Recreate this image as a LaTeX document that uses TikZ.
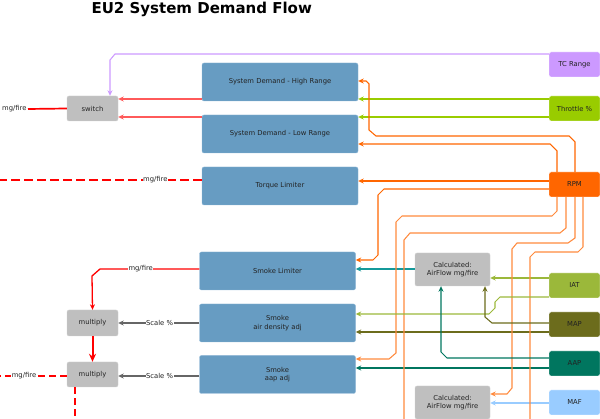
\documentclass[tikz,border=0pt]{standalone}
\usepackage{fontspec}
\setmainfont{DejaVu Sans}
\usetikzlibrary{arrows.meta}
\definecolor{boxblue}{HTML}{679CC2}
\definecolor{boxedge}{HTML}{8DB6D6}
\definecolor{calcgray}{HTML}{BFBFBF}
\definecolor{calcedge}{HTML}{D0D0D0}
\definecolor{textdark}{HTML}{222222}
\definecolor{tcpurple}{HTML}{CC99FF}
\definecolor{thrgreen}{HTML}{99CC00}
\definecolor{rpmorange}{HTML}{FF6600}
\definecolor{rpmlight}{HTML}{FF8A3D}
\definecolor{iatgreen}{HTML}{9BB83A}
\definecolor{mapolive}{HTML}{6C6C1C}
\definecolor{aapteal}{HTML}{00765F}
\definecolor{mafblue}{HTML}{99CCFF}
\definecolor{calcteal}{HTML}{14999A}
\definecolor{demandred}{HTML}{FF5A5A}
\definecolor{scalegray}{HTML}{666666}
\newcommand{\boxfont}{\fontsize{6.8}{8.4}\selectfont}
\newcommand{\titlefont}{\fontsize{15}{18}\selectfont\bfseries}
\begin{document}
\begin{tikzpicture}[x=1pt, y=-1pt]
    \useasboundingbox (0,0) rectangle (600,419);
    \node[anchor=base west, font=\titlefont] (title) at (88,14) {EU2 System Demand Flow};
    % demand blocks
    \begin{scope}
        \tikzstyle{every node}=[fill=boxblue, draw=boxedge, rounded corners=2pt, minimum width=156pt, minimum height=38pt, align=center, text=textdark, font=\boxfont]
        \node (hi) at (280,82) {System Demand - High Range};
        \node (lo) at (280,134) {System Demand - Low Range};
        \node (tq) at (280,186) {Torque Limiter};
        \node (smk) at (277.5,271) {Smoke Limiter};
        \node (sad) at (277.5,323) {Smoke\\air density adj};
        \node (sap) at (277.5,374.5) {Smoke\\aap adj};
    \end{scope}
    % gray blocks
    \begin{scope}
        \tikzstyle{every node}=[fill=calcgray, draw=calcedge, rounded corners=2pt, align=center, text=textdark, font=\boxfont]
        \node[minimum width=51pt, minimum height=25pt] (sw) at (92.5,108.5) {switch};
        \node[minimum width=51pt, minimum height=26pt] (mul1) at (92.5,323) {multiply};
        \node[minimum width=51pt, minimum height=25pt] (mul2) at (92.5,374.5) {multiply};
        \node[minimum width=75pt, minimum height=33pt] (caf1) at (452.5,269.5) {Calculated:\\AirFlow mg/fire};
        \node[minimum width=75pt, minimum height=33pt] (caf2) at (452.5,402.5) {Calculated:\\AirFlow mg/fire};
    \end{scope}
    % inputs
    \begin{scope}
        \tikzstyle{every node}=[draw=white, rounded corners=2pt, minimum width=51pt, minimum height=25pt, text=textdark, font=\boxfont]
        \node[fill=tcpurple] (tc) at (574.5,64.5) {TC Range};
        \node[fill=thrgreen] (thr) at (574.5,108.5) {Throttle \%};
        \node[fill=rpmorange] (rpm) at (574.5,184.5) {RPM};
        \node[fill=iatgreen] (iat) at (574.5,285.5) {IAT};
        \node[fill=mapolive] (map) at (574.5,324.5) {MAP};
        \node[fill=aapteal] (aap) at (574.5,363.5) {AAP};
        \node[fill=mafblue] (maf) at (574.5,402.5) {MAF};
    \end{scope}
    % connectors
    \begin{scope}
        \tikzstyle{wire}=[line width=1.05pt, -{Stealth[length=5.5pt, width=5pt]}]
        \tikzstyle{lbl}=[fill=white, inner sep=0.6pt, text=textdark, font=\boxfont]
        \tikzstyle{every edge}=[draw, wire]
        \coordinate (tqout) at (0,180);
        \coordinate (mulout) at (0,376);
        \coordinate (muldown) at (75,419);
        \coordinate (rpmdown1) at (404,419);
        \coordinate (rpmdown2) at (530,419);
        \path
        (thr.west |- 0,99) edge[thrgreen] (hi.east |- 0,99)
        (thr.west |- 0,117) edge[thrgreen] (lo.east |- 0,117)
        (hi.west |- 0,99) edge[demandred] (sw.east |- 0,99)
        (lo.west |- 0,117) edge[demandred] (sw.east |- 0,117)
        (rpm.west |- 0,181) edge[rpmorange] (tq.east |- 0,181)
        (caf1.west |- 0,269) edge[calcteal] (smk.east |- 0,269)
        (iat.west |- 0,278) edge[iatgreen] (caf1.east |- 0,278)
        (map.west |- 0,332) edge[mapolive] (sad.east |- 0,332)
        (aap.west |- 0,368) edge[aapteal] (sap.east |- 0,368)
        (maf.west |- 0,403) edge[mafblue] (caf2.east |- 0,403)
        (mul1.south) edge[red, line width=2pt, -{Stealth[length=8pt, width=7pt]}] (mul2.north);
        \draw[wire, tcpurple] (tc.west |- 0,54) -- (115,54) -- (110,60) -- (sw.north -| 110,0);
        \draw[red, line width=1.7pt] (sw.west) -- (28,109) node[lbl, anchor=east] (swout) {mg/fire};
        \draw[red, line width=1.8pt, dash pattern=on 9pt off 4pt] (tq.west |- 0,180) -- node[lbl, pos=0.23] {mg/fire} (tqout);
        \draw[red, line width=1.4pt, dash pattern=on 7pt off 4pt] (mul2.west |- 0,376) -- node[lbl, pos=0.64] {mg/fire} (mulout);
        \draw[red, line width=1.4pt, dash pattern=on 7pt off 4pt] (mul2.south -| 75,0) -- (muldown);
        \draw[wire, red, line width=1.3pt] (smk.west |- 0,269) -- node[lbl, pos=0.59] {mg/fire} (100,269) -- (92,276) -- (mul1.north);
        \draw[wire, scalegray] (sad.west |- 0,323) -- node[lbl, pos=0.49] {Scale \%} (mul1.east |- 0,323);
        \draw[wire, scalegray] (sap.west |- 0,376) -- node[lbl, pos=0.49] {Scale \%} (mul2.east |- 0,376);
        % rpm feeds
        \draw[wire, rpmorange] (rpm.north -| 575,0) -- (575,142) -- (569,136) -- (376,136) -- (369,130) -- (369,84) -- (366,81) -- (hi.east |- 0,81);
        \draw[wire, rpmorange] (rpm.north -| 557,0) -- (557,151) -- (550,144) -- (lo.east |- 0,144);
        \draw[wire, rpmorange] (rpm.west |- 0,189) -- (384,189) -- (378,195) -- (378,255) -- (373,260) -- (smk.east |- 0,260);
        \draw[wire, rpmlight] (rpm.south -| 557,0) -- (557,211) -- (552,216) -- (402,216) -- (396,222) -- (396,353) -- (389,359) -- (sap.east |- 0,359);
        \draw[line width=1.05pt, rpmlight] (rpm.south -| 566,0) -- (566,228) -- (560,233) -- (410,233) -- (404,240) -- (rpmdown1);
        \draw[wire, rpmlight] (rpm.south -| 575,0) -- (575,238) -- (568,243) -- (517,243) -- (512,249) -- (512,388) -- (507,394) -- (caf2.east |- 0,394);
        \draw[line width=1.05pt, rpmlight] (rpm.south -| 583,0) -- (583,247) -- (578,252) -- (535,252) -- (530,257) -- (rpmdown2);
        % air inputs
        \draw[wire, iatgreen] (iat.west |- 0,297) -- (500,297) -- (495,302) -- (495,308) -- (489,314) -- (sad.east |- 0,314);
        \draw[wire, mapolive] (map.west |- 0,323) -- (492,323) -- (485,317) -- (caf1.south -| 485,0);
        \draw[wire, aapteal] (aap.west |- 0,358) -- (447,358) -- (441,352) -- (caf1.south -| 441,0);
    \end{scope}
\end{tikzpicture}
\end{document}
